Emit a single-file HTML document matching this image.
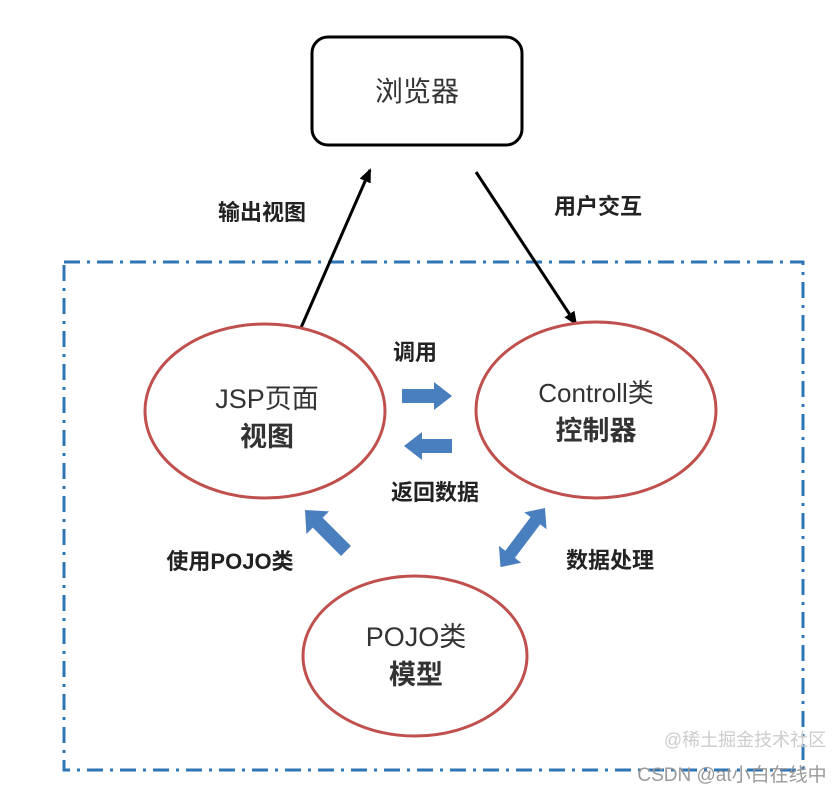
<!DOCTYPE html>
<html><head><meta charset="utf-8"><style>
html,body{margin:0;padding:0;background:#fff;width:840px;height:797px;overflow:hidden}
text{font-family:"Liberation Sans","Noto Sans CJK SC",sans-serif}
</style></head><body>
<svg width="840" height="797" viewBox="0 0 840 797" xmlns="http://www.w3.org/2000/svg">
<defs>
<marker id="ah" markerWidth="14" markerHeight="12" refX="12" refY="6" orient="auto" markerUnits="userSpaceOnUse">
<path d="M0,0 L14,6 L0,12 Z" fill="#000"/></marker>
</defs>
<rect x="312" y="37" width="210" height="108" rx="16" fill="#fff" stroke="#000" stroke-width="3"/>
<text x="417" y="101" font-size="28" text-anchor="middle" fill="#333">浏览器</text>
<rect x="64" y="262" width="739" height="508" fill="none" stroke="#2e75b6" stroke-width="3" stroke-dasharray="16,7,3,7"/>
<line x1="300" y1="330" x2="370" y2="170" stroke="#000" stroke-width="3" marker-end="url(#ah)"/>
<line x1="476" y1="172" x2="576" y2="324" stroke="#000" stroke-width="3" marker-end="url(#ah)"/>
<text x="262" y="220" font-size="22" font-weight="bold" text-anchor="middle" fill="#222">输出视图</text>
<text x="598" y="214" font-size="22" font-weight="bold" text-anchor="middle" fill="#222">用户交互</text>
<ellipse cx="265" cy="411" rx="120" ry="87" fill="#fff" stroke="#c0504d" stroke-width="3"/>
<ellipse cx="596" cy="410" rx="120" ry="88" fill="#fff" stroke="#c0504d" stroke-width="3"/>
<ellipse cx="415" cy="656" rx="112" ry="80" fill="#fff" stroke="#c0504d" stroke-width="3"/>
<text x="267" y="408" font-size="27" text-anchor="middle" fill="#333">JSP页面</text>
<text x="267" y="446" font-size="27" font-weight="bold" text-anchor="middle" fill="#333">视图</text>
<text x="596" y="402" font-size="26" text-anchor="middle" fill="#333">Controll类</text>
<text x="596" y="440" font-size="27" font-weight="bold" text-anchor="middle" fill="#333">控制器</text>
<text x="416" y="646" font-size="27" text-anchor="middle" fill="#333">POJO类</text>
<text x="416" y="684" font-size="27" font-weight="bold" text-anchor="middle" fill="#333">模型</text>
<text x="415" y="360" font-size="22" font-weight="bold" text-anchor="middle" fill="#222">调用</text>
<text x="435" y="500" font-size="22" font-weight="bold" text-anchor="middle" fill="#222">返回数据</text>
<text x="230" y="569" font-size="22" font-weight="bold" text-anchor="middle" fill="#222">使用POJO类</text>
<text x="610" y="568" font-size="22" font-weight="bold" text-anchor="middle" fill="#222">数据处理</text>
<path d="M402,389 L434,389 L434,382 L452,396 L434,410 L434,403 L402,403 Z" fill="#4a7fbf"/>
<path d="M452,439 L422,439 L422,432 L404,446 L422,460 L422,453 L452,453 Z" fill="#4a7fbf"/>
<g transform="translate(305,510) rotate(45)">
<path d="M0,0 L18,-16 L18,-7 L58,-7 L58,7 L18,7 L18,16 Z" fill="#4a7fbf"/></g>
<g transform="translate(545,508) rotate(127)">
<path d="M0,0 L16,-14 L16,-6 L58,-6 L58,-14 L74,0 L58,14 L58,6 L16,6 L16,14 Z" fill="#4a7fbf"/></g>
<text x="745" y="746" font-size="18" text-anchor="middle" fill="#ccc">@稀土掘金技术社区</text>
<text x="732" y="781" font-size="19" text-anchor="middle" fill="#999">CSDN @at小白在线中</text>
</svg>
</body></html>
